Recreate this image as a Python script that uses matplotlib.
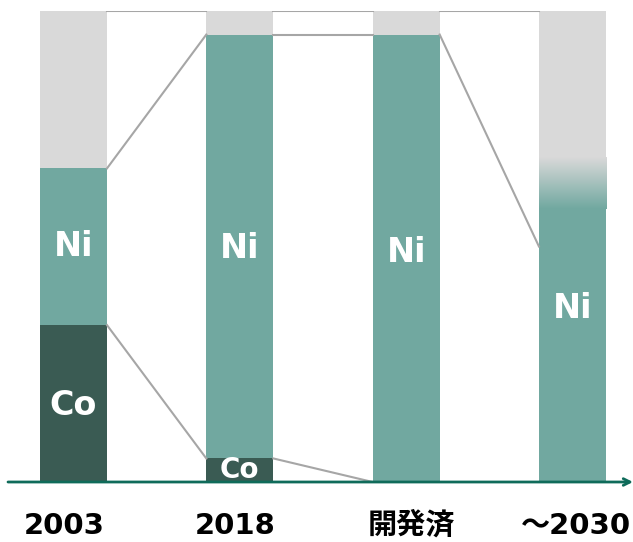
import matplotlib
matplotlib.use("Agg")
import matplotlib.pyplot as plt
import numpy as np
from matplotlib.colors import LinearSegmentedColormap

plt.rcParams['font.family'] = ['DejaVu Sans', 'Noto Sans CJK JP']

categories = ['2003', '2018', '開発済', '～2030']
co = [33.3, 5.0, 0.0, 0.0]
ni = [33.3, 90.0, 95.0, 58.0]
ni_fade = [0.0, 0.0, 0.0, 11.0]          # gradient part above the solid Ni (2030)
ni_line_end = [66.6, 95.0, 95.0, 50.0]   # where the Ni connector meets each bar
ni_label_y = [48.0, 47.6, 46.8, 34.8]    # baselines
co_label_y = [14.3, 0.9, None, None]
co_label_size = [24, 20, None, None]
cat_label_dx = [-0.054, -0.03, 0.033, 0.02]

C_CO = '#3a5b53'
C_NI = '#71a8a0'
C_REST = '#d9d9d9'
C_LINE = '#a6a6a6'
C_AXIS = '#0f6b5a'

fig = plt.figure(figsize=(6.33, 5.42), dpi=100)
ax = fig.add_axes([8/633, 60/542, 625/633, 471/542])
x = np.arange(len(categories))
w = 0.403
ax.axis('off')

# bars
ax.bar(x, co, width=w, color=C_CO, zorder=2)
ax.bar(x, ni, width=w, bottom=co, color=C_NI, zorder=2)
tops = [c + n for c, n in zip(co, ni)]
ax.bar(x, [100 - t for t in tops], width=w, bottom=tops, color=C_REST, zorder=1)

# gradient for 2030
cmap = LinearSegmentedColormap.from_list('fade', [C_NI, C_REST])
for i in range(len(x)):
    if ni_fade[i] > 0:
        grad = np.linspace(0, 1, 256).reshape(-1, 1)
        ax.imshow(grad, cmap=cmap, origin='lower', aspect='auto',
                  extent=(x[i] - w/2, x[i] + w/2, tops[i], tops[i] + ni_fade[i]),
                  zorder=2)
ax.set_xlim(-0.394, 3.364)
ax.set_ylim(0, 100)

# connector lines
for i in range(len(x) - 1):
    x0, x1 = x[i] + w/2, x[i+1] - w/2
    ax.plot([x0, x1], [100, 100], color=C_LINE, lw=1.5, zorder=3)
    ax.plot([x0, x1], [ni_line_end[i], ni_line_end[i+1]], color=C_LINE, lw=1.5, zorder=3)
    if i < 2:
        ax.plot([x0, x1], [co[i], co[i+1]], color=C_LINE, lw=1.5, zorder=3)

# labels
for i in range(len(x)):
    ax.text(x[i], ni_label_y[i], 'Ni', color='white', fontsize=24, fontweight='bold',
            ha='center', va='baseline', zorder=4)
    if co_label_y[i] is not None:
        ax.text(x[i], co_label_y[i], 'Co', color='white', fontsize=co_label_size[i],
                fontweight='bold', ha='center', va='baseline', zorder=4)
    ax.text(x[i] + cat_label_dx[i], -11.0, categories[i], color='black', fontsize=21,
            fontweight='bold', ha='center', va='baseline', clip_on=False)

# axis line with arrow
ax.annotate('', xy=(1.0, 0), xytext=(0.0, 0), xycoords=('axes fraction', 'data'),
            arrowprops=dict(arrowstyle='->', color=C_AXIS, lw=2, shrinkA=0, shrinkB=0,
                            mutation_scale=12), zorder=5)

fig.savefig('out.png', dpi=100)
